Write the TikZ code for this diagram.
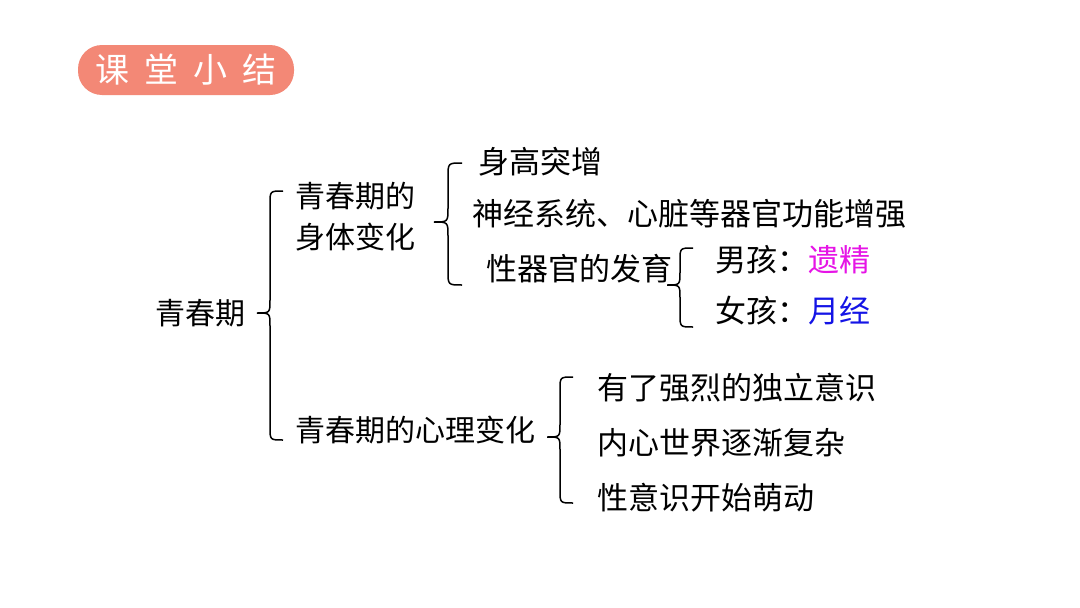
\documentclass[tikz,border=0pt]{standalone}
\usepackage{fontspec}
\setmainfont{Noto Sans CJK SC}
\newfontfamily\cjk{Noto Sans CJK SC}
\definecolor{pill}{RGB}{243,136,118}
\definecolor{mag}{RGB}{230,20,230}
\definecolor{blu}{RGB}{20,20,230}
\newcommand\brc[5]{%
\draw[brcline] ({#1+#3},#4) .. controls ({#1+#3/2},#4) .. ({#1+#3/2},{#4+#3/2}) -- ({#1+#3/2},{#2-#3/2}) .. controls ({#1+#3/2},#2) .. (#1,#2) .. controls ({#1+#3/2},#2) .. ({#1+#3/2},{#2+#3/2}) -- ({#1+#3/2},{#5-#3/2}) .. controls ({#1+#3/2},#5) .. ({#1+#3},#5);}
\begin{document}
\begin{tikzpicture}[x=1pt,y=-1pt,
  txt/.style={anchor=west,inner sep=0pt,font=\cjk\fontsize{31}{36}\selectfont,text=black},
  brcline/.style={draw=black,line width=1.5pt}]
\useasboundingbox[fill=white] (0,0) rectangle (1080,608);
% title
\node[fill=pill,rounded corners=24pt,minimum width=216pt,minimum height=50pt,inner sep=0pt,
  font=\cjk\fontsize{34}{38}\selectfont,text=white] (title) at (186,70)
  {课\hspace{0.45em}堂\hspace{0.45em}小\hspace{0.45em}结};
% nodes
\node[txt,align=left,font=\cjk\fontsize{30}{41}\selectfont] (root) at (155,313) {青春期};
\node[txt,align=left,font=\cjk\fontsize{30}{41}\selectfont] (body) at (295,217) {青春期的\\身体变化};
\node[txt,font=\cjk\fontsize{30}{36}\selectfont] (mind) at (295,430) {青春期的心理变化};
\node[txt] (h1) at (478,162) {身高突增};
\node[txt] (h2) at (472,214) {神经系统、心脏等器官功能增强};
\node[txt] (h3) at (486,269) {性器官的发育};
\node[txt] (boy) at (715,260) {男孩：\textcolor{mag}{遗精}};
\node[txt] (girl) at (715,311) {女孩：\textcolor{blu}{月经}};
\node[txt] (m1) at (597,388) {有了强烈的独立意识};
\node[txt] (m2) at (597,443) {内心世界逐渐复杂};
\node[txt] (m3) at (597,498) {性意识开始萌动};
% braces
\brc{257}{313}{26}{191}{440}
\brc{434}{222}{28}{163}{285}
\brc{667}{285}{26}{248}{327}
\brc{547}{437}{26}{377}{503}
\end{tikzpicture}
\end{document}
